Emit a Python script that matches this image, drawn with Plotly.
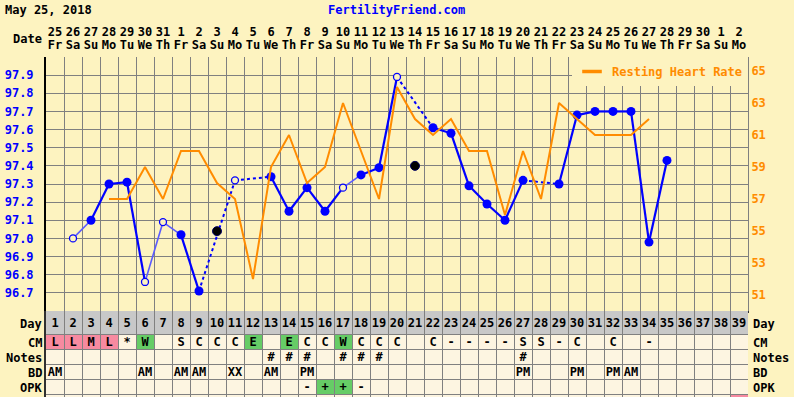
import plotly.graph_objects as go

W, H = 794, 397
BG = "#FDF3C0"
CREAM = "#FDF5E1"
GREY_ROW = "#C8C8C8"
GRID = "#808080"
BLUE = "#0000FF"
LIGHT_BLUE = "#5A5AFF"
ORANGE = "#FF8C00"
PINK = "#F78AA0"
GREEN = "#66CC66"
FONT = "DejaVu Sans Mono"

# ---------------- data ----------------
cycle_days = list(range(1, 40))
date_nums = ["25", "26", "27", "28", "29", "30", "31", "1", "2", "3", "4", "5", "6",
             "7", "8", "9", "10", "11", "12", "13", "14", "15", "16", "17", "18", "19",
             "20", "21", "22", "23", "24", "25", "26", "27", "28", "29", "30", "1", "2"]
weekdays = ["Fr", "Sa", "Su", "Mo", "Tu", "We", "Th", "Fr", "Sa", "Su", "Mo", "Tu", "We",
            "Th", "Fr", "Sa", "Su", "Mo", "Tu", "We", "Th", "Fr", "Sa", "Su", "Mo", "Tu",
            "We", "Th", "Fr", "Sa", "Su", "Mo", "Tu", "We", "Th", "Fr", "Sa", "Su", "Mo"]

temps = [None, 97.00, 97.10, 97.30, 97.31, 96.76, 97.09, 97.02, 96.71, 97.04,
         97.32, None, 97.34, 97.15, 97.28, 97.15, 97.28, 97.35, 97.39, 97.89,
         97.40, 97.61, 97.58, 97.29, 97.19, 97.10, 97.32, None, 97.30, 97.68,
         97.70, 97.70, 97.70, 96.98, 97.43, None, None, None, None]
# f = filled, o = open circle, x = discarded
temp_flags = ["", "o", "f", "f", "f", "o", "o", "f", "f", "x",
              "o", "", "f", "f", "f", "f", "o", "f", "f", "o",
              "x", "f", "f", "f", "f", "f", "f", "", "f", "f",
              "f", "f", "f", "f", "f", "", "", "", ""]

hr_days = list(range(4, 35))
heart_rate = [57, 57, 59, 57, 60, 60, 58, 57, 52, 59, 61, 58, 59, 63, 60, 57,
              64, 62, 61, 62, 60, 60, 56, 60, 57, 63, 62, 61, 61, 61, 62]

temp_ticks = [96.6, 96.7, 96.8, 96.9, 97.0, 97.1, 97.2, 97.3, 97.4, 97.5, 97.6,
              97.7, 97.8, 97.9, 98.0]
hr_ticks = [51, 53, 55, 57, 59, 61, 63, 65]

cm = ["L", "L", "M", "L", "*", "W", "", "S", "C", "C", "C", "E", "", "E", "C", "C",
      "W", "C", "C", "C", "", "C", "-", "-", "-", "-", "S", "S", "-", "C", "", "C",
      "", "-", "", "", "", "", ""]
notes = ["", "", "", "", "", "", "", "", "", "", "", "", "#", "#", "#", "", "#", "#",
         "#", "", "", "", "", "", "", "", "#", "", "", "", "", "", "", "", "", "", "",
         "", ""]
bd = ["AM", "", "", "", "", "AM", "", "AM", "AM", "", "XX", "", "AM", "", "PM", "",
      "", "", "", "", "", "", "", "", "", "", "PM", "", "", "PM", "", "PM", "AM", "",
      "", "", "", "", ""]
opk = ["", "", "", "", "", "", "", "", "", "", "", "", "", "", "-", "+", "+", "-",
       "", "", "", "", "", "", "", "", "", "", "", "", "", "", "", "", "", "", "", "",
       ""]
extra_row_marked = [39]
row_names = ["Day", "CM", "Notes", "BD", "OPK"]

# ---------------- layout geometry (pixels) ----------------
PL, PR = 46, 748          # plot left/right
PT, PB = 57, 311          # plot top/bottom
row_edges = [311, 334, 349, 364, 379, 394, 409]

xdom = [PL / W, PR / W]
fig = go.Figure()

# heart rate
fig.add_trace(go.Scatter(x=hr_days, y=heart_rate, mode="lines", yaxis="y4",
                         line=dict(color=ORANGE, width=2), showlegend=False,
                         hoverinfo="skip"))
# legend proxy
fig.add_trace(go.Scatter(x=[None], y=[None], mode="markers", yaxis="y4",
                         name="Resting Heart Rate",
                         marker=dict(symbol="line-ew", size=14, color=ORANGE,
                                     line=dict(color=ORANGE, width=3.5))))

# temperature segments
valid = [(d, t, f) for d, t, f in zip(cycle_days, temps, temp_flags) if f in ("f", "o")]
for (d1, t1, f1), (d2, t2, f2) in zip(valid[:-1], valid[1:]):
    if d2 - d1 == 1:
        light = (f1 == "o")
        fig.add_trace(go.Scatter(x=[d1, d2], y=[t1, t2], mode="lines",
                                 line=dict(color=LIGHT_BLUE if light else BLUE,
                                           width=1.6 if light else 2.2),
                                 showlegend=False, hoverinfo="skip"))
    else:
        fig.add_trace(go.Scatter(x=[d1, d2], y=[t1, t2], mode="lines",
                                 line=dict(color=BLUE, width=2, dash="3px,3px"),
                                 showlegend=False, hoverinfo="skip"))

fx = [d for d, f in zip(cycle_days, temp_flags) if f == "f"]
fy = [t for t, f in zip(temps, temp_flags) if f == "f"]
ox = [d for d, f in zip(cycle_days, temp_flags) if f == "o"]
oy = [t for t, f in zip(temps, temp_flags) if f == "o"]
xx = [d for d, f in zip(cycle_days, temp_flags) if f == "x"]
xy = [t for t, f in zip(temps, temp_flags) if f == "x"]
fig.add_trace(go.Scatter(x=fx, y=fy, mode="markers", showlegend=False,
                         marker=dict(size=9, color=BLUE, line=dict(width=0))))
fig.add_trace(go.Scatter(x=ox, y=oy, mode="markers", showlegend=False,
                         marker=dict(size=7, color=BG, line=dict(width=1.3, color=BLUE))))
fig.add_trace(go.Scatter(x=xx, y=xy, mode="markers", showlegend=False,
                         marker=dict(size=9, color="#000000", line=dict(width=1, color="#000060"))))

# header text (dates / weekdays)
hdr_font = dict(family=FONT, size=12, color="#000000", weight="bold")
fig.add_trace(go.Scatter(x=cycle_days, y=[33] * len(cycle_days), text=date_nums,
                         mode="text", xaxis="x3", yaxis="y3", textfont=hdr_font,
                         showlegend=False, hoverinfo="skip", cliponaxis=False))
fig.add_trace(go.Scatter(x=cycle_days, y=[46] * len(cycle_days), text=weekdays,
                         mode="text", xaxis="x3", yaxis="y3", textfont=hdr_font,
                         showlegend=False, hoverinfo="skip", cliponaxis=False))

# table text
tbl_font = dict(family=FONT, size=12, color="#000000", weight="bold")
row_texts = [[str(d) for d in cycle_days], cm, notes, bd, opk]
for i, texts in enumerate(row_texts):
    yc = (row_edges[i] + row_edges[i + 1]) / 2 + 1
    fig.add_trace(go.Scatter(x=cycle_days, y=[yc] * len(cycle_days), text=texts,
                             mode="text", xaxis="x2", yaxis="y2", textfont=tbl_font,
                             showlegend=False, hoverinfo="skip", cliponaxis=False))

# table cell fills
shapes = []
shapes.append(dict(type="rect", xref="x2", yref="y2", x0=0.5, x1=39.5,
                   y0=row_edges[0], y1=row_edges[1], fillcolor=GREY_ROW,
                   line=dict(width=0), layer="below"))
shapes.append(dict(type="rect", xref="x2", yref="y2", x0=0.5, x1=39.5,
                   y0=row_edges[1], y1=row_edges[-1], fillcolor=CREAM,
                   line=dict(width=0), layer="below"))


def cell(day, row, color):
    return dict(type="rect", xref="x2", yref="y2", x0=day - 0.5, x1=day + 0.5,
                y0=row_edges[row], y1=row_edges[row + 1], fillcolor=color,
                line=dict(width=0), layer="below")


for d, c in zip(cycle_days, cm):
    if c in ("L", "M", "H"):
        shapes.append(cell(d, 1, PINK))
    elif c in ("W", "E"):
        shapes.append(cell(d, 1, GREEN))
for d, o in zip(cycle_days, opk):
    if o == "+":
        shapes.append(cell(d, 4, GREEN))
for d in extra_row_marked:
    shapes.append(cell(d, 5, PINK))

# annotations
ann = [
    dict(text="May 25, 2018", x=3 / W, y=1 - 10 / H, xref="paper", yref="paper",
         xanchor="left", yanchor="middle", showarrow=False,
         font=dict(family=FONT, size=12, color="#000000", weight="bold")),
    dict(text="FertilityFriend.com", x=396 / W, y=1 - 10 / H, xref="paper", yref="paper",
         xanchor="center", yanchor="middle", showarrow=False,
         font=dict(family=FONT, size=12, color=BLUE, weight="bold")),
    dict(text="Date", x=44 / W, y=39, xref="paper", yref="y3",
         xanchor="right", yanchor="middle", showarrow=False,
         font=dict(family=FONT, size=12, color="#000000", weight="bold")),
]
for i, name in enumerate(row_names):
    yc = (row_edges[i] + row_edges[i + 1]) / 2 + 1
    ann.append(dict(text=name, x=44 / W, y=yc, xref="paper", yref="y2",
                    xanchor="right", yanchor="middle", showarrow=False,
                    font=dict(family=FONT, size=12, color="#000000", weight="bold")))
    ann.append(dict(text=name, x=751 / W, y=yc, xref="paper", yref="y2",
                    xanchor="left", yanchor="middle", showarrow=False,
                    font=dict(family=FONT, size=12, color="#000000", weight="bold")))

bounds = [i + 0.5 for i in range(0, 40)]
fig.update_layout(
    width=W, height=H, margin=dict(l=0, r=0, t=0, b=0),
    paper_bgcolor=BG, plot_bgcolor=BG,
    shapes=shapes, annotations=ann,
    showlegend=True,
    legend=dict(x=PR / W, y=1 - PT / H, xanchor="right", yanchor="top",
                bgcolor=BG, borderwidth=0, itemwidth=30,
                font=dict(family=FONT, size=12, color=ORANGE, weight="bold"),
                tracegroupgap=0),
    xaxis=dict(domain=xdom, range=[0.5, 39.5], anchor="y", tickvals=bounds,
               showticklabels=False, ticks="", showgrid=True, gridcolor=GRID,
               gridwidth=1, zeroline=False, showline=True, linecolor="#303030",
               linewidth=2),
    yaxis=dict(domain=[(H - PB) / H, (H - PT) / H], range=[96.6, 98.0], anchor="x",
               tickvals=temp_ticks,
               ticktext=["" if (t < 96.65 or t > 97.95) else f"{t:.1f}" for t in temp_ticks],
               showgrid=True, gridcolor=GRID, gridwidth=1, zeroline=False,
               showline=True, linecolor="#000000", linewidth=2,
               ticks="outside", ticklen=8, tickcolor=BG,
               tickfont=dict(family=FONT, size=12, color=BLUE, weight="bold")),
    yaxis4=dict(overlaying="y", side="right", range=[50, 65.875], anchor="x",
                tickvals=hr_ticks, showgrid=False, zeroline=False,
                showline=True, linecolor=GRID, linewidth=1, ticks="",
                tickfont=dict(family=FONT, size=12, color=ORANGE, weight="bold")),
    xaxis2=dict(domain=xdom, matches="x", anchor="y2", tickvals=bounds,
                showticklabels=False, ticks="", showgrid=True, gridcolor=GRID,
                gridwidth=1, zeroline=False),
    yaxis2=dict(domain=[0, (H - PB) / H], range=[H, PB], anchor="x2",
                tickvals=row_edges[1:6], showticklabels=False, ticks="",
                showgrid=True, gridcolor=GRID, gridwidth=1, zeroline=False,
                showline=True, linecolor="#303030", linewidth=2),
    xaxis3=dict(domain=xdom, matches="x", anchor="y3", visible=False),
    yaxis3=dict(domain=[(H - PT) / H, 1], range=[PT, 0], anchor="x3", visible=False),
)

fig.write_html("out.html", config={"displayModeBar": False},
               post_script="document.body.style.margin='0';")
